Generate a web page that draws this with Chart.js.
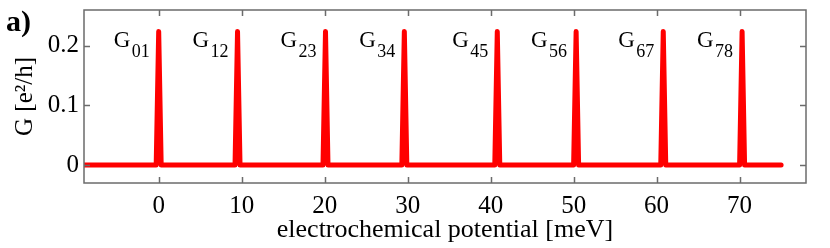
<!DOCTYPE html>
<html>
<head>
<meta charset="utf-8">
<script src="https://cdn.jsdelivr.net/npm/chart.js@4.4.0/dist/chart.umd.min.js"></script>
<style>
  html, body { margin: 0; padding: 0; background: #fff; }
</style>
</head>
<body>
<canvas id="gchart" width="830" height="248"></canvas>
<script>
// values (meV, e^2/h)
const energy = [-9, -0.3, 0, 0.3, 9.2, 9.5, 9.8, 19.8, 20.1, 20.4, 29.3, 29.6, 29.9,
  40.5, 40.8, 41.1, 50.0, 50.3, 50.6, 60.5, 60.8, 61.1, 70.0, 70.3, 70.6, 75];
const conductance = [0, 0, 0.224, 0, 0, 0.224, 0, 0, 0.224, 0, 0, 0.224, 0,
  0, 0.224, 0, 0, 0.224, 0, 0, 0.224, 0, 0, 0.224, 0, 0];

const peakPos = [0, 9.5, 20.1, 29.6, 40.8, 50.3, 60.8, 70.3];
const peakNames = ['01', '12', '23', '34', '45', '56', '67', '78'];

const xTicks = [0, 10, 20, 30, 40, 50, 60, 70];
const yTicks = [0, 0.1, 0.2];

const serif = "'Liberation Serif', 'Times New Roman', serif";

// box round the plot with inward ticks on all sides
const frame = {
  id: 'frame',
  afterDatasetsDraw(chart) {
    const c = chart.ctx, a = chart.chartArea;
    const sx = chart.scales.x, sy = chart.scales.y;
    c.save();
    c.strokeStyle = '#6b6b6b';
    c.lineWidth = 1.5;
    c.strokeRect(a.left, a.top, a.right - a.left, a.bottom - a.top);
    c.beginPath();
    xTicks.forEach(v => {
      const px = Math.round(sx.getPixelForValue(v)) + 0.5;
      c.moveTo(px, a.bottom); c.lineTo(px, a.bottom - 6);
      c.moveTo(px, a.top); c.lineTo(px, a.top + 6);
    });
    yTicks.forEach(v => {
      const py = Math.round(sy.getPixelForValue(v)) + 0.5;
      c.moveTo(a.left, py); c.lineTo(a.left + 6, py);
      c.moveTo(a.right, py); c.lineTo(a.right - 6, py);
    });
    c.stroke();

    // peak labels G_nm
    c.fillStyle = '#000';
    c.textBaseline = 'alphabetic';
    c.textAlign = 'left';
    peakPos.forEach((p, i) => {
      const px = sx.getPixelForValue(p);
      c.font = '23px ' + serif;
      c.fillText('G', px - 45, 47);
      c.font = '18px ' + serif;
      c.fillText(peakNames[i], px - 27, 57);
    });

    c.font = 'bold 30px ' + serif;
    c.fillText('a)', 6, 31);
    c.restore();
  }
};

new Chart(document.getElementById('gchart'), {
  type: 'line',
  data: {
    datasets: [{
      data: energy.map((e, i) => ({ x: e, y: conductance[i] })),
      borderColor: '#ff0000',
      borderWidth: 5,
      borderCapStyle: 'round',
      borderJoinStyle: 'round',
      pointRadius: 0,
      tension: 0,
      clip: 0
    }]
  },
  options: {
    responsive: false,
    animation: false,
    layout: { padding: { top: 10, right: 24, left: 10, bottom: 0 } },
    plugins: { legend: { display: false }, tooltip: { enabled: false } },
    scales: {
      x: {
        type: 'linear',
        min: -9,
        max: 78,
        afterBuildTicks: s => { s.ticks = xTicks.map(v => ({ value: v })); },
        afterFit: s => { s.height = 65; s.paddingLeft = 0; s.paddingRight = 0; },
        grid: { display: false, drawTicks: false },
        border: { display: false },
        ticks: {
          color: '#000',
          padding: 8,
          maxRotation: 0,
          font: { family: serif, size: 25 },
          callback: v => String(v)
        },
        title: {
          display: true,
          text: 'electrochemical potential [meV]',
          color: '#000',
          padding: { top: 0, bottom: 2 },
          font: { family: serif, size: 26 }
        }
      },
      y: {
        min: -0.03,
        max: 0.26,
        afterBuildTicks: s => { s.ticks = yTicks.map(v => ({ value: v })); },
        afterFit: s => { s.width = 74; s.paddingTop = 0; s.paddingBottom = 0; },
        grid: { display: false, drawTicks: false },
        border: { display: false },
        ticks: {
          color: '#000',
          padding: 5,
          font: { family: serif, size: 25 },
          callback: v => (v === 0 ? '0' : v.toFixed(1))
        },
        title: {
          display: true,
          text: 'G [e\u00b2/h]',
          color: '#000',
          padding: { top: 0, bottom: 0 },
          font: { family: serif, size: 25 }
        }
      }
    }
  },
  plugins: [frame]
});
</script>
</body>
</html>
